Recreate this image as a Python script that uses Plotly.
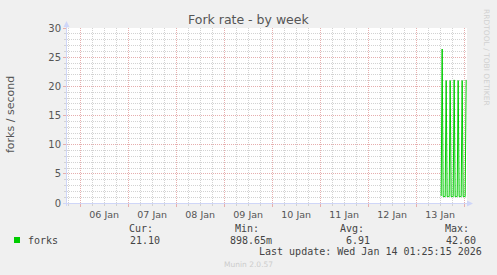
import plotly.graph_objects as go

# Fork rate samples (30-minute steps), forks per second
times = [
    "2026-01-13 12:30", "2026-01-13 13:00", "2026-01-13 13:30", "2026-01-13 14:00",
    "2026-01-13 14:30", "2026-01-13 15:00", "2026-01-13 15:30", "2026-01-13 16:00",
    "2026-01-13 16:30", "2026-01-13 17:00", "2026-01-13 17:30", "2026-01-13 18:00",
    "2026-01-13 18:30", "2026-01-13 19:00", "2026-01-13 19:30", "2026-01-13 20:00",
    "2026-01-13 20:30", "2026-01-13 21:00", "2026-01-13 21:30", "2026-01-13 22:00",
    "2026-01-13 22:30", "2026-01-13 23:00", "2026-01-13 23:30", "2026-01-14 00:00",
    "2026-01-14 00:30", "2026-01-14 01:00",
]
forks = [
    1.2, 26.4, 1.1, 1.1,
    1.1, 21.0, 1.1, 1.1,
    1.1, 21.0, 1.1, 1.1,
    1.1, 21.1, 1.1, 1.1,
    1.1, 21.0, 1.1, 1.1,
    1.1, 21.0, 1.1, 1.1,
    1.1, 21.1,
]

x_range = ["2026-01-05 17:25:15", "2026-01-14 01:25:15"]
y_range = [0, 30]

legend_name = "forks"
stat_labels = ["Cur:", "Min:", "Avg:", "Max:"]
stat_values = ["21.10", "898.65m", "6.91", "42.60"]
last_update = "Last update: Wed Jan 14 01:25:15 2026"

# Plot area geometry (pixels)
W_FIG, H_FIG = 497, 275
L, T, W, H = 67, 28, 400, 175


def px(x):
    return (x - L) / W


def py(y):
    return (T + H - y) / H


BG = "#F0F0F0"
AXIS = "#CFD6F8"
MINOR = "#D2D2D2"
MAJOR = "#E6AEAE"
FONT_C = "#555555"
GREEN = "#00CC00"

fig = go.Figure()
fig.add_trace(go.Scatter(
    x=times, y=forks, mode="lines", line=dict(color=GREEN, width=1),
    hoverinfo="skip", showlegend=False,
))

DAY = 86400000
fig.update_layout(
    width=W_FIG, height=H_FIG,
    margin=dict(l=L, r=W_FIG - L - W, t=T, b=H_FIG - T - H, pad=0),
    paper_bgcolor=BG, plot_bgcolor="white",
    font=dict(family="DejaVu Sans", color=FONT_C, size=10),
    showlegend=False,
    xaxis=dict(
        type="date", range=x_range, fixedrange=True,
        tickmode="linear", tick0="2026-01-06", dtick=DAY,
        ticklabelmode="period", tickformat="%d %b",
        tickfont=dict(size=9.5, color=FONT_C),
        showgrid=True, gridcolor=MAJOR, griddash="1px,1px", gridwidth=1,
        ticks="outside", ticklen=3, tickcolor=MAJOR,
        minor=dict(dtick=DAY / 4, showgrid=True, gridcolor=MINOR,
                   griddash="1px,1px", gridwidth=1,
                   ticks="outside", ticklen=2, tickcolor=MINOR),
        showline=False, zeroline=False,
    ),
    yaxis=dict(
        range=y_range, fixedrange=True,
        tickmode="linear", tick0=0, dtick=5,
        tickfont=dict(size=10, color=FONT_C),
        showgrid=True, gridcolor=MAJOR, griddash="1px,1px", gridwidth=1,
        ticks="outside", ticklen=3, tickcolor=MAJOR,
        minor=dict(dtick=1, showgrid=True, gridcolor=MINOR,
                   griddash="1px,1px", gridwidth=1,
                   ticks="outside", ticklen=2, tickcolor=MINOR),
        showline=False, zeroline=False,
    ),
)

shapes = []
# Axis lines with arrowheads
shapes.append(dict(type="line", xref="paper", yref="paper",
                   x0=px(66.5), x1=px(66.5), y0=py(206), y1=py(25),
                   line=dict(color=AXIS, width=1)))
shapes.append(dict(type="line", xref="paper", yref="paper",
                   x0=px(63), x1=px(469), y0=py(203.5), y1=py(203.5),
                   line=dict(color=AXIS, width=1)))
shapes.append(dict(type="path", xref="paper", yref="paper",
                   path=f"M {px(63.5)} {py(27)} L {px(69.5)} {py(27)} L {px(66.5)} {py(21)} Z",
                   fillcolor=AXIS, line=dict(color=AXIS, width=0)))
shapes.append(dict(type="path", xref="paper", yref="paper",
                   path=f"M {px(467)} {py(200.5)} L {px(467)} {py(206.5)} L {px(473)} {py(203.5)} Z",
                   fillcolor=AXIS, line=dict(color=AXIS, width=0)))
# Legend colour swatch
shapes.append(dict(type="rect", xref="paper", yref="paper",
                   x0=px(14), x1=px(20), y0=py(243), y1=py(237),
                   fillcolor=GREEN, line=dict(width=0)))
fig.update_layout(shapes=shapes)

MONO = "DejaVu Sans Mono"
ann = []
ann.append(dict(text="Fork rate - by week", x=px(248.5), y=py(19), xref="paper", yref="paper",
                showarrow=False, xanchor="center", yanchor="middle",
                font=dict(family="DejaVu Sans", size=12.5, color=FONT_C)))
ann.append(dict(text="forks / second", x=px(10), y=py(115), xref="paper", yref="paper",
                showarrow=False, xanchor="center", yanchor="middle", textangle=-90,
                font=dict(family="DejaVu Sans", size=11, color=FONT_C)))
ann.append(dict(text="RRDTOOL / TOBI OETIKER", x=px(487), y=py(57), xref="paper", yref="paper",
                showarrow=False, xanchor="center", yanchor="middle", textangle=90,
                font=dict(family="DejaVu Sans", size=7.5, color="#D0D0D0")))

label_right = [154, 260, 365, 470]
value_right = [161, 273, 371, 477]
for lab, val, lx, vx in zip(stat_labels, stat_values, label_right, value_right):
    ann.append(dict(text=lab, x=px(lx), y=py(228), xref="paper", yref="paper",
                    showarrow=False, xanchor="right", yanchor="middle",
                    font=dict(family=MONO, size=10, color="#444444")))
    ann.append(dict(text=val, x=px(vx), y=py(240), xref="paper", yref="paper",
                    showarrow=False, xanchor="right", yanchor="middle",
                    font=dict(family=MONO, size=10, color="#444444")))
ann.append(dict(text=legend_name, x=px(26.5), y=py(240), xref="paper", yref="paper",
                showarrow=False, xanchor="left", yanchor="middle",
                font=dict(family=MONO, size=10, color="#444444")))
ann.append(dict(text=last_update, x=px(483), y=py(251.5), xref="paper", yref="paper",
                showarrow=False, xanchor="right", yanchor="middle",
                font=dict(family=MONO, size=10, color="#444444")))
ann.append(dict(text="Munin 2.0.57", x=px(248), y=py(264), xref="paper", yref="paper",
                showarrow=False, xanchor="center", yanchor="middle",
                font=dict(family="DejaVu Sans", size=7.5, color="#CCCCCC")))
for a in ann:
    a["borderpad"] = 0
fig.update_layout(annotations=ann)

fig.write_html("out.html", config={"displayModeBar": False})
